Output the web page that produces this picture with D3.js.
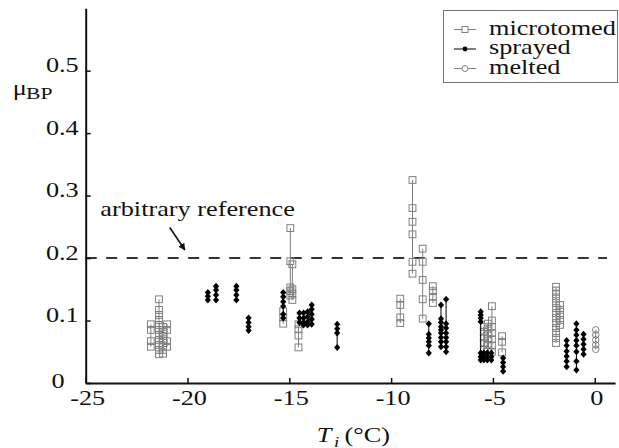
<!DOCTYPE html>
<html>
<head>
<meta charset="utf-8">
<script src="https://cdn.jsdelivr.net/npm/d3@7"></script>
<style>
  html, body { margin: 0; padding: 0; background: #fff; }
  svg { display: block; }
</style>
</head>
<body>
<svg id="chart" width="619" height="448"></svg>
<script>
// ---- data: friction coefficient vs. interface temperature ----
const xTicks = [-25, -20, -15, -10, -5, 0];
const yTicks = [0, 0.1, 0.2, 0.3, 0.4, 0.5];
const referenceLevel = 0.2;

// microtomed samples: one temperature per run, values measured in that run
const microtomedT = [-21.8, -21.4, -21.2, -21.0, -15.3, -14.95, -14.85, -14.55,
                     -9.55, -8.95, -8.45, -7.95, -5.45, -5.25, -5.05, -4.55, -1.9, -1.7];
const microtomedMu = [
  [0.094, 0.085, 0.067, 0.058],
  [0.134, 0.117, 0.109, 0.101, 0.093, 0.085, 0.077, 0.069, 0.061, 0.053, 0.046],
  [0.090, 0.082, 0.075, 0.068, 0.060, 0.053, 0.047],
  [0.094, 0.085, 0.067, 0.058],
  [0.115, 0.105, 0.095],
  [0.248, 0.195, 0.153, 0.147, 0.140],
  [0.190, 0.150, 0.143, 0.133],
  [0.094, 0.086, 0.076, 0.057],
  [0.135, 0.125, 0.105, 0.096],
  [0.325, 0.280, 0.258, 0.238, 0.194, 0.175],
  [0.215, 0.194, 0.165, 0.134, 0.103],
  [0.155, 0.147, 0.138, 0.128],
  [0.090, 0.082, 0.073, 0.064, 0.054, 0.045],
  [0.095, 0.087, 0.078, 0.070, 0.061, 0.052, 0.043],
  [0.123, 0.100, 0.090, 0.080, 0.070, 0.060, 0.050],
  [0.075, 0.066, 0.049],
  [0.154, 0.148, 0.142, 0.135, 0.128, 0.120, 0.112, 0.104, 0.096, 0.088, 0.080, 0.072, 0.064],
  [0.125, 0.117, 0.109, 0.101, 0.093]
];

// sprayed samples
const sprayedT = [-19.0, -18.6, -17.6, -17.0, -15.3, -14.5, -14.3, -14.1, -13.9, -12.65,
                  -8.15, -7.55, -7.3, -5.6, -5.45, -5.28, -5.08, -4.5, -1.38, -0.9, -0.55];
const sprayedMu = [
  [0.145, 0.139, 0.133],
  [0.155, 0.149, 0.141, 0.133],
  [0.155, 0.149, 0.141, 0.133],
  [0.104, 0.097, 0.090, 0.084],
  [0.145, 0.138, 0.130, 0.123, 0.110, 0.104],
  [0.112, 0.104, 0.097],
  [0.112, 0.104, 0.097, 0.093],
  [0.114, 0.106, 0.098, 0.093],
  [0.125, 0.118, 0.110, 0.102, 0.094],
  [0.094, 0.087, 0.080, 0.057],
  [0.095, 0.078, 0.072, 0.066, 0.060, 0.048],
  [0.125, 0.103, 0.097, 0.090, 0.085, 0.080, 0.073, 0.066, 0.058],
  [0.134, 0.095, 0.088, 0.080, 0.073, 0.066, 0.058, 0.050],
  [0.114, 0.109, 0.104, 0.098, 0.048, 0.042, 0.037],
  [0.048, 0.042, 0.037],
  [0.048, 0.042, 0.037],
  [0.048, 0.042, 0.037],
  [0.040, 0.033, 0.026, 0.019],
  [0.068, 0.060, 0.051, 0.043, 0.035, 0.026],
  [0.095, 0.085, 0.077, 0.068, 0.060, 0.050, 0.035, 0.021],
  [0.078, 0.070, 0.062, 0.054, 0.046]
];

// melted samples
const meltedT = [0.05];
const meltedMu = [[0.085, 0.077, 0.069, 0.061, 0.054]];

const legendLabels = ["microtomed", "sprayed", "melted"];

// ---- layout ----
const svg = d3.select("#chart");
const FONT = "Liberation Serif";
const SX = 1.25;           // horizontal stretch of the serif lettering
const GRAY = "#808080";

const x = d3.scaleLinear().domain([-25, 1]).range([85.7, 615.1]);
const y = d3.scaleLinear().domain([0, 0.6]).range([383, 8.2]);

function addText(parent, px, py, str, size, opts = {}) {
  return parent.append("text")
    .attr("transform", `translate(${px},${py}) scale(${opts.sx || SX},1)`)
    .attr("font-family", FONT)
    .attr("font-size", size)
    .attr("font-style", opts.italic ? "italic" : "normal")
    .attr("text-anchor", opts.anchor || "start")
    .attr("fill", "#111")
    .text(str);
}

// ---- reference line and its annotation ----
svg.append("line")
  .attr("x1", x(-25)).attr("x2", x(0.6))
  .attr("y1", y(referenceLevel)).attr("y2", y(referenceLevel))
  .attr("stroke", "#333").attr("stroke-width", 2)
  .attr("stroke-dasharray", "11,9.5");

addText(svg, x(-24.28), y(0.267), "arbitrary reference", 21);

svg.append("defs").append("marker")
  .attr("id", "arrowhead").attr("viewBox", "0 0 10 10")
  .attr("refX", 9).attr("refY", 5)
  .attr("markerWidth", 7).attr("markerHeight", 7)
  .attr("markerUnits", "userSpaceOnUse")
  .attr("orient", "auto")
  .append("path").attr("d", "M0,0 L10,5 L0,10 z").attr("fill", "#111");

svg.append("line")
  .attr("x1", x(-20.87)).attr("y1", y(0.249))
  .attr("x2", x(-20.13)).attr("y2", y(0.213))
  .attr("stroke", "#111").attr("stroke-width", 1.6)
  .attr("marker-end", "url(#arrowhead)");

// ---- data marks ----
function toGroups(temps, values) {
  return temps.map((t, i) => ({ t, pts: values[i].map(v => ({ t, v })) }));
}

function drawSeries(groups, lineColor, drawMarker) {
  const g = svg.append("g");
  g.selectAll("line.run").data(groups).join("line")
    .attr("class", "run")
    .attr("x1", d => x(d.t)).attr("x2", d => x(d.t))
    .attr("y1", d => y(d3.max(d.pts, p => p.v)))
    .attr("y2", d => y(d3.min(d.pts, p => p.v)))
    .attr("stroke", lineColor).attr("stroke-width", 1);
  const pts = groups.flatMap(d => d.pts);
  drawMarker(g, pts);
}

const squareMarker = (g, pts) => g.selectAll("rect").data(pts).join("rect")
  .attr("x", d => x(d.t) - 3.4).attr("y", d => y(d.v) - 3.4)
  .attr("width", 6.8).attr("height", 6.8)
  .attr("fill", "none").attr("stroke", GRAY).attr("stroke-width", 1);

// sprayed points are small filled diamonds
const dotMarker = (g, pts) => g.selectAll("path").data(pts).join("path")
  .attr("transform", d => `translate(${x(d.t)},${y(d.v)})`)
  .attr("d", "M0,-3.5 L3.1,0 L0,3.5 L-3.1,0 Z")
  .attr("fill", "#000");

const ringMarker = (g, pts) => g.selectAll("circle").data(pts).join("circle")
  .attr("cx", d => x(d.t)).attr("cy", d => y(d.v)).attr("r", 3.3)
  .attr("fill", "none").attr("stroke", GRAY).attr("stroke-width", 1);

drawSeries(toGroups(microtomedT, microtomedMu), GRAY, squareMarker);
drawSeries(toGroups(sprayedT, sprayedMu), "#000", dotMarker);
drawSeries(toGroups(meltedT, meltedMu), GRAY, ringMarker);

// ---- axes ----
const xAxis = svg.append("g")
  .attr("transform", `translate(0,${y(0)})`)
  .call(d3.axisBottom(x).tickValues(xTicks).tickSizeInner(-5).tickSizeOuter(0)
    .tickFormat(d => String(d)));
const yAxis = svg.append("g")
  .attr("transform", `translate(${x(-25)},0)`)
  .call(d3.axisLeft(y).tickValues(yTicks).tickSizeInner(-5).tickSizeOuter(0)
    .tickFormat(d => String(d)));

[xAxis, yAxis].forEach(a => {
  a.attr("font-family", FONT).attr("font-size", 21);
  a.select(".domain").attr("stroke", "#111").attr("stroke-width", 2);
  a.selectAll(".tick line").attr("stroke", "#111").attr("stroke-width", 1.5);
  a.selectAll(".tick text")
    .attr("font-family", FONT).attr("font-size", 21)
    .attr("fill", "#111").attr("x", null).attr("y", null).attr("dy", null);
});

xAxis.selectAll(".tick text")
  .attr("text-anchor", "middle")
  .attr("transform", `translate(1.5,22) scale(${SX},1)`);

yAxis.selectAll(".tick text")
  .attr("text-anchor", "end")
  .attr("transform", d => d === 0
    ? `translate(-21,4) scale(${SX},1)`
    : `translate(-7,1) scale(${SX},1)`);

// axis titles
addText(svg, 12.7, 94.5, "μ", 21);
addText(svg, 26, 98.5, "BP", 16, { sx: 1.35 });

addText(svg, 316.7, 442, "T", 21, { italic: true });
addText(svg, 334, 446.5, "i", 15, { italic: true });
addText(svg, 344.5, 442, "(°C)", 21);

// ---- legend ----
const legend = svg.append("g");
legend.append("rect")
  .attr("x", 443.5).attr("y", 10.5).attr("width", 174).attr("height", 72)
  .attr("fill", "#fff").attr("stroke", "#777").attr("stroke-width", 1);

const legendRows = [
  { name: legendLabels[0], color: GRAY, kind: "square" },
  { name: legendLabels[1], color: "#000", kind: "dot" },
  { name: legendLabels[2], color: GRAY, kind: "ring" }
];
legendRows.forEach((r, i) => {
  const base = 34.5 + i * 19.5;
  const my = base - 5;
  legend.append("line").attr("x1", 454).attr("x2", 476).attr("y1", my).attr("y2", my)
    .attr("stroke", r.color).attr("stroke-width", 1);
  if (r.kind === "square") {
    legend.append("rect").attr("x", 462).attr("y", my - 3).attr("width", 6).attr("height", 6)
      .attr("fill", "#fff").attr("stroke", r.color);
  } else if (r.kind === "dot") {
    legend.append("circle").attr("cx", 465).attr("cy", my).attr("r", 2.4).attr("fill", "#000");
  } else {
    legend.append("circle").attr("cx", 465).attr("cy", my).attr("r", 3)
      .attr("fill", "#fff").attr("stroke", r.color);
  }
  addText(legend, 489, base, r.name, 21);
});
</script>
</body>
</html>
